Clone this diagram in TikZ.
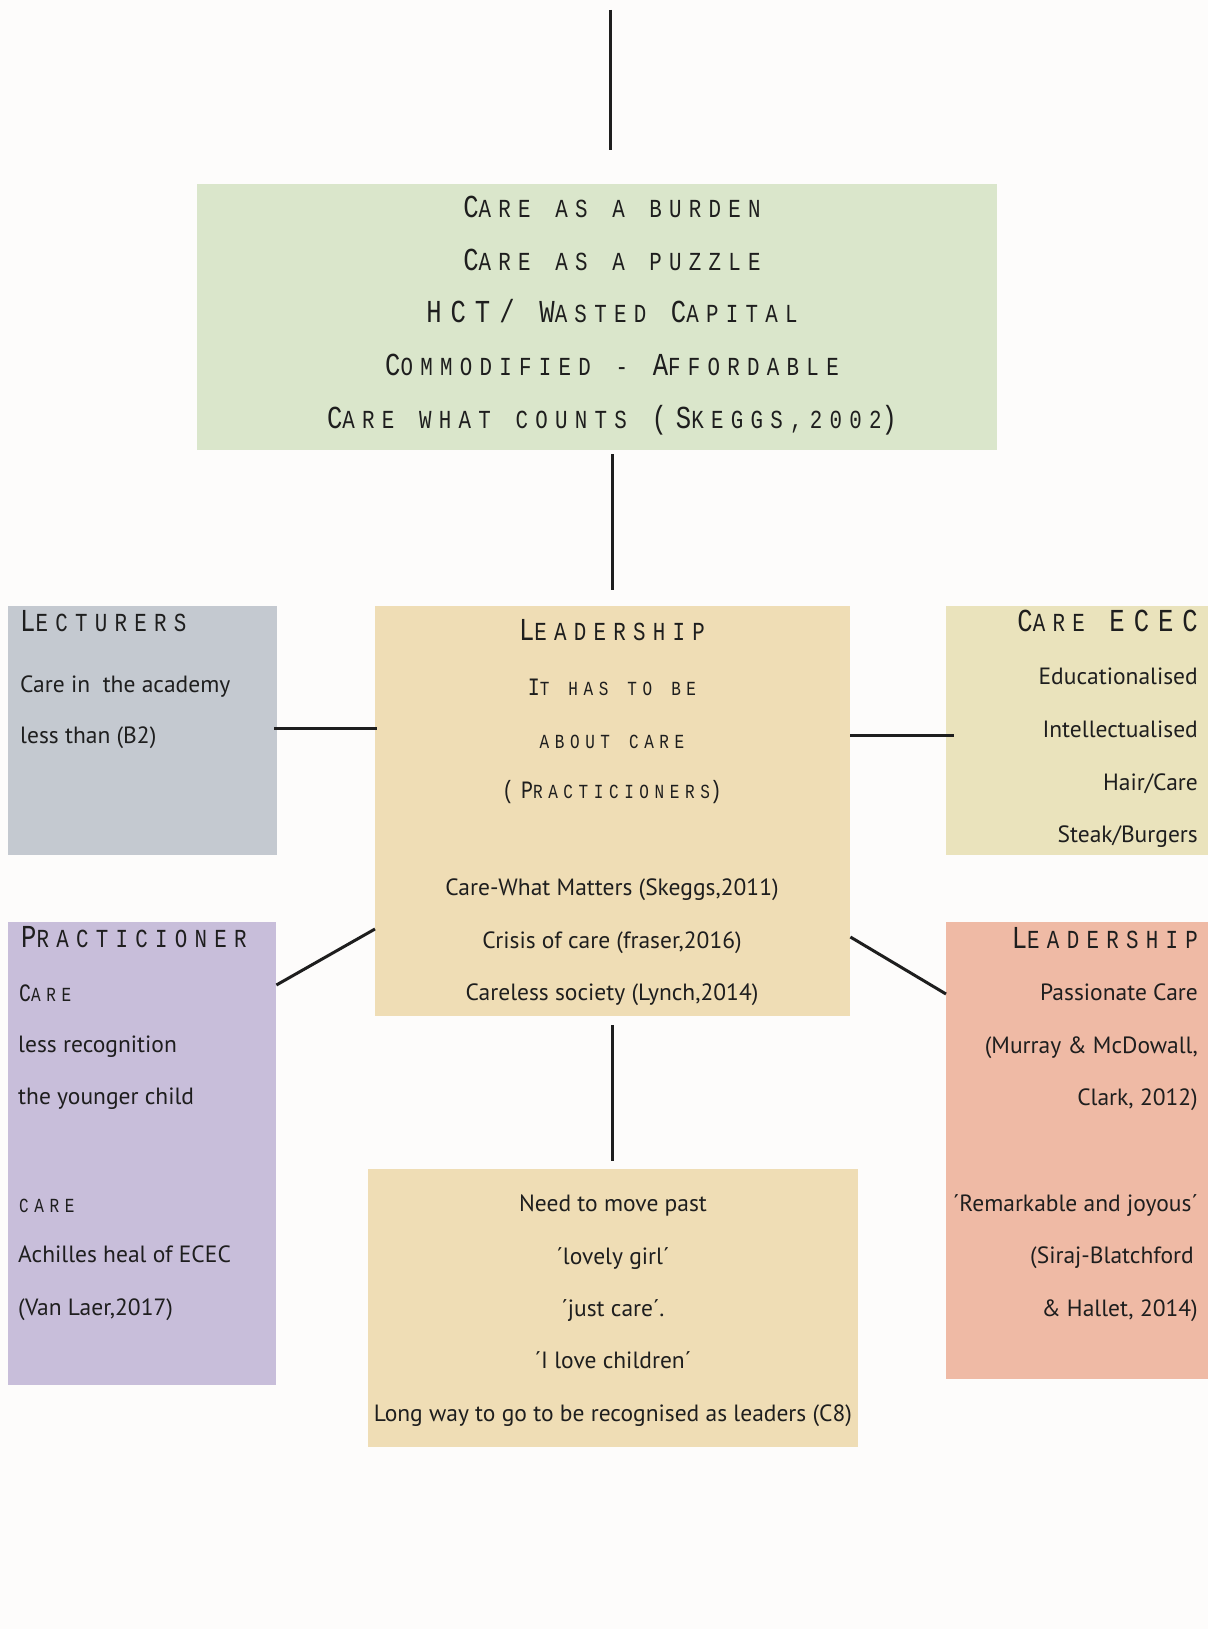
\documentclass[tikz,border=0pt]{standalone}
\usepackage{fontspec}
\setmainfont{PT Sans}
\newfontfamily\capfont[FakeStretch=0.8,LetterSpace=28,WordSpace=1.25]{Liberation Mono}

\definecolor{pagebg}{HTML}{FDFCFB}
\definecolor{greenbox}{HTML}{DAE6CB}
\definecolor{greybox}{HTML}{C4C9D0}
\definecolor{tanbox}{HTML}{EFDDB5}
\definecolor{olivebox}{HTML}{EAE3BC}
\definecolor{lilacbox}{HTML}{C8BEDA}
\definecolor{salmonbox}{HTML}{EFBAA5}
\definecolor{ink}{HTML}{1E1E1E}

% large initial letters for the two sizes of spaced capitals
\newcommand\bL[1]{{\fontsize{32}{32}\selectfont #1}}
\newcommand\bS[1]{{\fontsize{25}{25}\selectfont #1}}

\tikzset{
  panel/.style={draw=none, inner sep=0pt, anchor=north west},
  link/.style={line width=3pt, draw=ink},
  body/.style={font=\fontsize{23.5}{23.5}\selectfont, inner sep=0pt, text=ink, yshift=-4pt},
  capL/.style={font=\capfont\fontsize{26}{26}\selectfont, inner sep=0pt, text=ink, yshift=-6pt},
  capS/.style={font=\capfont\fontsize{20}{20}\selectfont, inner sep=0pt, text=ink, yshift=-5pt},
}

\begin{document}
\begin{tikzpicture}[x=1pt, y=-1pt]
  \useasboundingbox (0,0) rectangle (1208,1629);
  \fill[pagebg] (0,0) rectangle (1208,1629);

  % panels
  \node[panel, fill=greenbox,  minimum width=800pt, minimum height=266pt] (themes) at (197,184) {};
  \node[panel, fill=greybox,   minimum width=269pt, minimum height=249pt] (lect)   at (8,606) {};
  \node[panel, fill=tanbox,    minimum width=475pt, minimum height=410pt] (hub)    at (375,606) {};
  \node[panel, fill=olivebox,  minimum width=262pt, minimum height=249pt] (ecec)   at (946,606) {};
  \node[panel, fill=lilacbox,  minimum width=268pt, minimum height=463pt] (prac)   at (8,922) {};
  \node[panel, fill=salmonbox, minimum width=262pt, minimum height=457pt] (lead)   at (946,922) {};
  \node[panel, fill=tanbox,    minimum width=490pt, minimum height=278pt] (past)   at (368,1169) {};

  % reference coordinates for the connectors
  \coordinate (axis) at (612,0);
  \coordinate (topend) at (610,10);
  \coordinate (topfoot) at (610,150);
  \coordinate (ly) at (0,728);
  \coordinate (ry) at (0,735);
  \coordinate (pl) at (0,985);
  \coordinate (pr) at (0,929);
  \coordinate (sl) at (0,937);
  \coordinate (sr) at (0,994);

  % connectors
  \draw[link] (topend) -- (topfoot);
  \draw[link, shorten <=4pt, shorten >=16pt] (themes.south -| axis) -- (hub.north -| axis);
  \draw[link, shorten <=-3pt, shorten >=-2pt] (lect.east |- ly) -- (hub.west |- ly);
  \draw[link, shorten >=-8pt] (hub.east |- ry) -- (ecec.west |- ry);
  \draw[link] (prac.east |- pl) -- (hub.west |- pr);
  \draw[link] (hub.east |- sl) -- (lead.west |- sr);
  \draw[link, shorten <=9pt, shorten >=8pt] (hub.south -| axis) -- (past.north -| axis);

  % top panel
  \node[capL, anchor=mid] (th1) at (612,209) {\bL{C}ARE AS A BURDEN};
  \node[capL, anchor=mid] (th2) at (612,262) {\bL{C}ARE AS A PUZZLE};
  \node[capL, anchor=mid] (th3) at (612,314) {\bL{HCT/} \bL{W}ASTED \bL{C}APITAL};
  \node[capL, anchor=mid] (th4) at (612,367) {\bL{C}OMMODIFIED - \bL{A}FFORDABLE};
  \node[capL, anchor=mid] (th5) at (612,420) {\bL{C}ARE WHAT COUNTS \bL{(S}KEGGS,2002\bL{)}};

  % central panel
  \node[capL, anchor=mid] (hb1) at (612,632) {\bL{L}EADERSHIP};
  \node[capS, anchor=mid] (hb2) at (612,688) {\bS{I}T HAS TO BE};
  \node[capS, anchor=mid] (hb3) at (612,741) {ABOUT CARE};
  \node[capS, anchor=mid] (hb4) at (612,791) {\bS{(P}RACTICIONERS\bS{)}};
  \node[body, anchor=mid] (hb5) at (612,889) {Care-What Matters (Skeggs,2011)};
  \node[body, anchor=mid] (hb6) at (612,942) {Crisis of care (fraser,2016)};
  \node[body, anchor=mid] (hb7) at (612,994) {Careless society (Lynch,2014)};

  % lecturers
  \node[capL, anchor=mid west] (le1) at (20,623) {\bL{L}ECTURERS};
  \node[body, anchor=mid west] (le2) at (20,686) {Care in~~the academy};
  \node[body, anchor=mid west] (le3) at (20,737) {less than (B2)};

  % care in ECEC
  \node[capL, anchor=mid east] (ec1) at (1198,623) {\bL{C}ARE \bL{ECEC}};
  \node[body, anchor=mid east] (ec2) at (1198,678) {Educationalised};
  \node[body, anchor=mid east] (ec3) at (1198,731) {Intellectualised};
  \node[body, anchor=mid east] (ec4) at (1198,784) {Hair/Care};
  \node[body, anchor=mid east] (ec5) at (1198,836) {Steak/Burgers};

  % practicioner
  \node[capL, anchor=mid west] (pr1) at (21,939) {\bL{P}RACTICIONER};
  \node[capS, anchor=mid west] (pr2) at (19,994) {\bS{C}ARE};
  \node[body, anchor=mid west] (pr3) at (18,1046) {less recognition};
  \node[body, anchor=mid west] (pr4) at (18,1098) {the younger child};
  \node[capS, anchor=mid west] (pr5) at (19,1205) {CARE};
  \node[body, anchor=mid west] (pr6) at (18,1256) {Achilles heal of ECEC};
  \node[body, anchor=mid west] (pr7) at (18,1309) {(Van Laer,2017)};

  % leadership
  \node[capL, anchor=mid east] (ld1) at (1198,940) {\bL{L}EADERSHIP};
  \node[body, anchor=mid east] (ld2) at (1198,994) {Passionate Care};
  \node[body, anchor=mid east] (ld3) at (1198,1047) {(Murray \& McDowall,};
  \node[body, anchor=mid east] (ld4) at (1198,1099) {Clark, 2012)};
  \node[body, anchor=mid east] (ld5) at (1198,1205) {´Remarkable and joyous´};
  \node[body, anchor=mid east] (ld6) at (1194,1257) {(Siraj-Blatchford};
  \node[body, anchor=mid east] (ld7) at (1198,1310) {\& Hallet, 2014)};

  % moving past
  \node[body, anchor=mid] (pa1) at (613,1205) {Need to move past};
  \node[body, anchor=mid] (pa2) at (613,1258) {´lovely girl´};
  \node[body, anchor=mid] (pa3) at (613,1310) {´just care´.};
  \node[body, anchor=mid] (pa4) at (613,1362) {´I love children´};
  \node[body, anchor=mid] (pa5) at (613,1415) {Long way to go to be recognised as leaders (C8)};
\end{tikzpicture}
\end{document}
